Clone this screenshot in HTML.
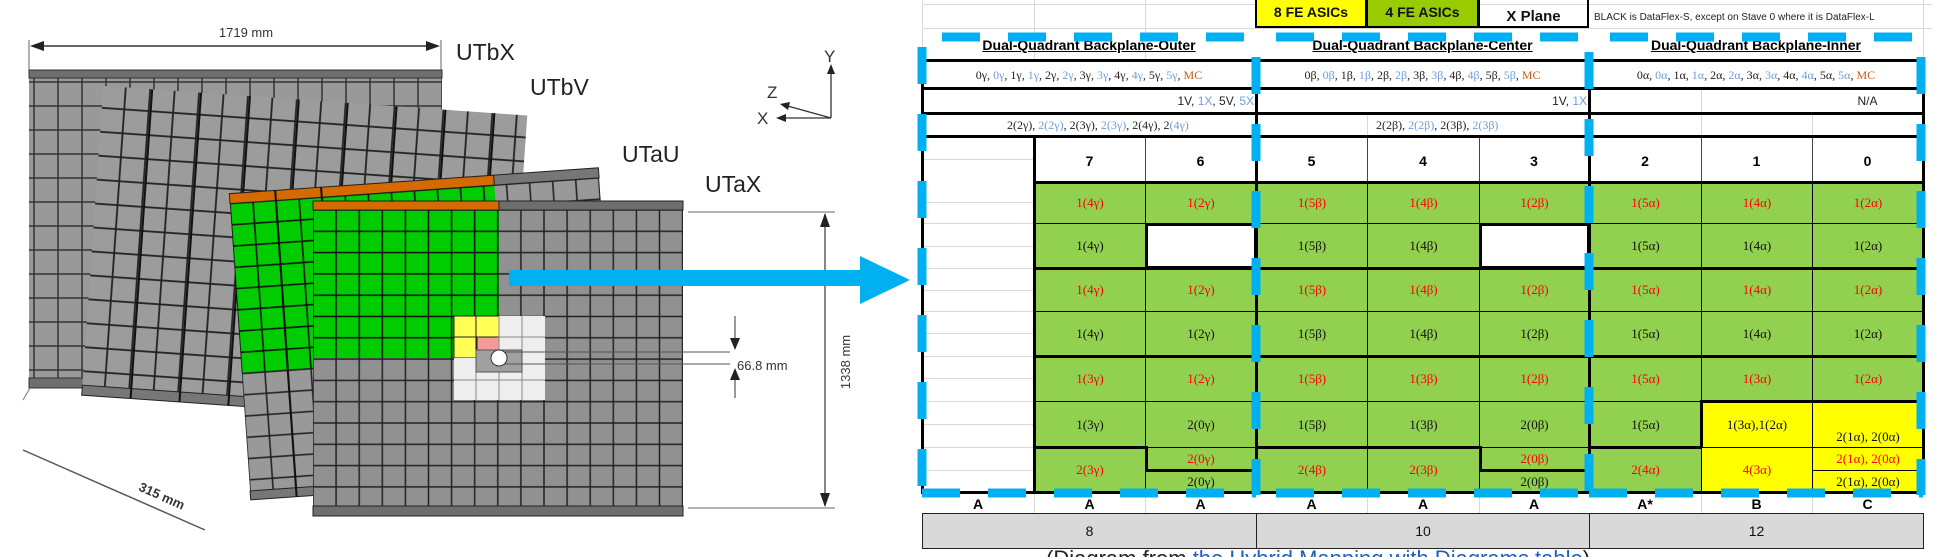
<!DOCTYPE html>
<html style="width:1947px;height:557px;overflow:hidden"><head><meta charset="utf-8"><style>
*{margin:0;padding:0}
body{width:1947px;height:557px;position:relative;overflow:hidden;background:#fff;font-family:"Liberation Sans",sans-serif}
.a{position:absolute;box-sizing:border-box}
.c{position:absolute;box-sizing:border-box;display:flex;align-items:center;justify-content:center;font:13px "Liberation Serif",serif;border:1px solid #000;color:#111}
.g{background:#92d050}.y{background:#ffff00}.r{color:#f00}.w{background:#fff}
.h{position:absolute;height:3px;background:#000}
.v{position:absolute;width:3px;background:#000}
.lg{position:absolute;background:#d9d9d9}
.b{color:#6f9fd8}.m{color:#c55a11}
.t{position:absolute;font:12px "Liberation Serif",serif;color:#222;white-space:nowrap}
.n{position:absolute;font:bold 14px "Liberation Sans",sans-serif;text-align:center}
</style></head><body>

<svg class="a" style="left:0;top:0" width="930" height="557">
<defs>
<pattern id="g1" x="34" y="82" width="24" height="24" patternUnits="userSpaceOnUse"><rect width="24" height="24" fill="#999" stroke="#333" stroke-width="1.5"/></pattern>
<pattern id="g2" x="90" y="98" width="24.5" height="24" patternUnits="userSpaceOnUse"><rect width="24.5" height="24" fill="#9c9c9c" stroke="#222" stroke-width="1.8"/></pattern>
<pattern id="g3" x="240" y="190" width="23.1" height="21.3" patternUnits="userSpaceOnUse"><rect width="23.1" height="21.3" fill="#999" stroke="#222" stroke-width="1.6"/></pattern>
<pattern id="gg" x="240" y="190" width="23.1" height="21.3" patternUnits="userSpaceOnUse"><rect width="23.1" height="21.3" fill="#00cc00" stroke="#111" stroke-width="1.6"/></pattern>
<pattern id="gx" x="313" y="210" width="23.1" height="21.3" patternUnits="userSpaceOnUse"><rect width="23.1" height="21.3" fill="#919191" stroke="#222" stroke-width="1.5"/></pattern>
<pattern id="gxg" x="313" y="210" width="23.1" height="21.3" patternUnits="userSpaceOnUse"><rect width="23.1" height="21.3" fill="#00cc00" stroke="#111" stroke-width="1.5"/></pattern>
</defs>
<line x1="29" y1="40" x2="29" y2="72" stroke="#666"/>
<line x1="441" y1="40" x2="441" y2="72" stroke="#666"/>
<line x1="32" y1="46" x2="438" y2="46" stroke="#333" stroke-width="1.5"/>
<polygon points="30,46 44,41 44,51" fill="#222"/><polygon points="440,46 426,41 426,51" fill="#222"/>
<text x="246" y="37" font-size="13" fill="#333" text-anchor="middle" font-family="Liberation Sans">1719 mm</text>
<text x="456" y="60" font-size="23" fill="#222" font-family="Liberation Sans">UTbX</text>
<text x="530" y="95" font-size="23" fill="#222" font-family="Liberation Sans">UTbV</text>
<text x="622" y="162" font-size="23" fill="#222" font-family="Liberation Sans">UTaU</text>
<text x="705" y="192" font-size="23" fill="#222" font-family="Liberation Sans">UTaX</text>
<rect x="29" y="70" width="413" height="318" fill="url(#g1)"/>
<rect x="29" y="70" width="413" height="8" fill="#6e6e6e" stroke="#333"/>
<rect x="29" y="378" width="413" height="10" fill="#6e6e6e" stroke="#333"/>
<g transform="rotate(4 300 255)">
<rect x="92" y="100" width="425" height="310" fill="url(#g2)"/>
<rect x="92" y="400" width="425" height="10" fill="#777" stroke="#222"/>
<path d="M141 100V410M190 100V410M239 100V410M288 100V410M337 100V410M386 100V410M435 100V410M484 100V410" stroke="#111" stroke-width="2"/>
</g>
<g transform="rotate(-4 430 340)">
<rect x="240" y="180" width="370" height="305" fill="url(#g3)"/>
<rect x="240" y="190" width="265" height="170" fill="url(#gg)"/>
<rect x="240" y="180" width="265" height="10" fill="#d46a00" stroke="#222"/>
<rect x="505" y="180" width="105" height="10" fill="#777" stroke="#222"/>
<rect x="240" y="478" width="370" height="9" fill="#777" stroke="#222"/>
<path d="M286 180V487M332 180V487" stroke="#111" stroke-width="2"/>
</g>
<rect x="313" y="201" width="370" height="315" fill="url(#gx)"/>
<rect x="313" y="201" width="370" height="9" fill="#6e6e6e" stroke="#222"/>
<rect x="313" y="506" width="370" height="10" fill="#6e6e6e" stroke="#222"/>
<rect x="313" y="210" width="186" height="148" fill="url(#gxg)"/>
<rect x="313" y="201" width="186" height="9" fill="#d46a00" stroke="#222"/>
<rect x="454" y="316" width="45" height="42" fill="#ffff55" stroke="#222"/>
<line x1="476" y1="316" x2="476" y2="358" stroke="#222"/><line x1="454" y1="337" x2="499" y2="337" stroke="#222"/>
<rect x="477" y="337" width="22" height="21" fill="#f59a9a" stroke="#222"/>
<rect x="454" y="358" width="91" height="42" fill="#eee"/>
<rect x="499" y="316" width="46" height="42" fill="#eee"/>
<path d="M454 380H545M476 358V401M499 316V401M522 316V401M499 337H545" stroke="#888"/>
<rect x="476" y="350" width="46" height="22" fill="#a0a0a0" stroke="#555"/>
<line x1="499" y1="352" x2="730" y2="352" stroke="#555"/><line x1="499" y1="364" x2="730" y2="364" stroke="#555"/>
<circle cx="499" cy="358" r="8" fill="#fff" stroke="#333"/>
<line x1="688" y1="212" x2="835" y2="212" stroke="#666"/>
<line x1="688" y1="508" x2="835" y2="508" stroke="#666"/>
<line x1="825" y1="214" x2="825" y2="506" stroke="#444" stroke-width="1.3"/>
<polygon points="825,213 820,227 830,227" fill="#222"/><polygon points="825,507 820,493 830,493" fill="#222"/>
<text transform="translate(850 362) rotate(-90)" font-size="13" fill="#333" text-anchor="middle" font-family="Liberation Sans">1338 mm</text>
<line x1="735" y1="316" x2="735" y2="346" stroke="#333"/><polygon points="735,350 730,338 740,338" fill="#222"/>
<line x1="735" y1="372" x2="735" y2="398" stroke="#333"/><polygon points="735,368 730,380 740,380" fill="#222"/>
<text x="737" y="370" font-size="13" fill="#333" font-family="Liberation Sans">66.8 mm</text>
<line x1="23" y1="450" x2="205" y2="530" stroke="#555" stroke-width="1.5"/>
<line x1="23" y1="400" x2="30" y2="388" stroke="#777"/>
<text transform="translate(160 500) rotate(24)" font-size="13" fill="#333" text-anchor="middle" font-family="Liberation Sans" font-weight="bold">315 mm</text>
<line x1="831" y1="118" x2="831" y2="68" stroke="#333" stroke-width="1.3"/><polygon points="831,64 827,74 835,74" fill="#222"/>
<line x1="831" y1="118" x2="784" y2="105" stroke="#333" stroke-width="1.3"/><polygon points="780,104 790,102 788,110" fill="#222"/>
<line x1="831" y1="118" x2="780" y2="118" stroke="#333" stroke-width="1.3"/><polygon points="776,118 786,114 786,122" fill="#222"/>
<text x="824" y="62" font-size="17" fill="#333" font-family="Liberation Sans">Y</text>
<text x="767" y="98" font-size="17" fill="#333" font-family="Liberation Sans">Z</text>
<text x="757" y="124" font-size="17" fill="#333" font-family="Liberation Sans">X</text>
<rect x="509" y="270" width="355" height="16" fill="#00b0f0"/>
<polygon points="860,256 910,280 860,304" fill="#00b0f0"/>
</svg>

<div class="lg" style="left:922px;top:4px;width:1010px;height:1px"></div>
<div class="lg" style="left:922px;top:28px;width:1010px;height:1px"></div>
<div class="lg" style="left:922px;top:0;width:1px;height:60px"></div>
<div class="lg" style="left:1034px;top:0;width:1px;height:60px"></div>
<div class="lg" style="left:1145px;top:0;width:1px;height:60px"></div>
<div class="lg" style="left:1923px;top:0;width:1px;height:60px"></div>
<div class="lg" style="left:924px;top:159px;width:110px;height:1px"></div>
<div class="lg" style="left:924px;top:202px;width:110px;height:1px"></div>
<div class="lg" style="left:924px;top:223px;width:110px;height:1px"></div>
<div class="lg" style="left:924px;top:246px;width:110px;height:1px"></div>
<div class="lg" style="left:924px;top:268px;width:110px;height:1px"></div>
<div class="lg" style="left:924px;top:290px;width:110px;height:1px"></div>
<div class="lg" style="left:924px;top:311px;width:110px;height:1px"></div>
<div class="lg" style="left:924px;top:333px;width:110px;height:1px"></div>
<div class="lg" style="left:924px;top:356px;width:110px;height:1px"></div>
<div class="lg" style="left:924px;top:378px;width:110px;height:1px"></div>
<div class="lg" style="left:924px;top:401px;width:110px;height:1px"></div>
<div class="lg" style="left:924px;top:424px;width:110px;height:1px"></div>
<div class="lg" style="left:924px;top:447px;width:110px;height:1px"></div>
<div class="lg" style="left:924px;top:470px;width:110px;height:1px"></div>
<div class="lg" style="left:1701px;top:88px;width:1px;height:48px"></div>
<div class="lg" style="left:1812px;top:113px;width:1px;height:23px"></div>
<div class="lg" style="left:1367px;top:113px;width:1px;height:23px"></div>
<div class="lg" style="left:1034px;top:492px;width:1px;height:21px"></div>
<div class="lg" style="left:1145px;top:492px;width:1px;height:21px"></div>
<div class="lg" style="left:1367px;top:492px;width:1px;height:21px"></div>
<div class="lg" style="left:1479px;top:492px;width:1px;height:21px"></div>
<div class="lg" style="left:1701px;top:492px;width:1px;height:21px"></div>
<div class="lg" style="left:1812px;top:492px;width:1px;height:21px"></div>

<div class="c y" style="left:1255px;top:-20px;width:112px;height:48px;border:2px solid #000;font:bold 14px 'Liberation Sans',sans-serif;padding-top:16px">8 FE ASICs</div>
<div class="c" style="left:1366px;top:-20px;width:113px;height:48px;border:2px solid #000;background:#99cc00;font:bold 14px 'Liberation Sans',sans-serif;padding-top:16px">4 FE ASICs</div>
<div class="c" style="left:1478px;top:-2px;width:111px;height:30px;border:2px solid #000;font:bold 15px 'Liberation Sans',sans-serif;padding-top:6px">X Plane</div>
<div class="t" style="left:1594px;top:12px;font:10px 'Liberation Sans',sans-serif">BLACK is DataFlex-S, except on Stave 0 where it is DataFlex-L</div>

<div class="n" style="left:922px;top:37px;width:334px;text-decoration:underline">Dual-Quadrant Backplane-Outer</div>
<div class="n" style="left:1256px;top:37px;width:333px;text-decoration:underline">Dual-Quadrant Backplane-Center</div>
<div class="n" style="left:1589px;top:37px;width:334px;text-decoration:underline">Dual-Quadrant Backplane-Inner</div>

<div class="t" style="left:922px;top:68px;width:334px;text-align:center">0γ, <span class="b">0γ</span>, 1γ, <span class="b">1γ</span>, 2γ, <span class="b">2γ</span>, 3γ, <span class="b">3γ</span>, 4γ, <span class="b">4γ</span>, 5γ, <span class="b">5γ</span>, <span class="m">MC</span></div>
<div class="t" style="left:1256px;top:68px;width:333px;text-align:center">0β, <span class="b">0β</span>, 1β, <span class="b">1β</span>, 2β, <span class="b">2β</span>, 3β, <span class="b">3β</span>, 4β, <span class="b">4β</span>, 5β, <span class="b">5β</span>, <span class="m">MC</span></div>
<div class="t" style="left:1589px;top:68px;width:334px;text-align:center">0α, <span class="b">0α</span>, 1α, <span class="b">1α</span>, 2α, <span class="b">2α</span>, 3α, <span class="b">3α</span>, 4α, <span class="b">4α</span>, 5α, <span class="b">5α</span>, <span class="m">MC</span></div>
<div class="t" style="left:922px;top:94px;width:332px;text-align:right;font-family:'Liberation Sans',sans-serif">1V, <span class="b">1X</span>, 5V, <span class="b">5X</span></div>
<div class="t" style="left:1256px;top:94px;width:331px;text-align:right;font-family:'Liberation Sans',sans-serif">1V, <span class="b">1X</span></div>
<div class="t" style="left:1812px;top:94px;width:111px;text-align:center;font-family:'Liberation Sans',sans-serif">N/A</div>
<div class="t" style="left:922px;top:118px;width:334px;overflow:hidden;padding-left:85px;box-sizing:border-box">2(2γ), <span class="b">2(2γ)</span>, 2(3γ), <span class="b">2(3γ)</span>, 2(4γ), 2<span class="b">(4γ)</span></div>
<div class="t" style="left:1256px;top:118px;width:333px;overflow:hidden;padding-left:120px;box-sizing:border-box">2(2β), <span class="b">2(2β)</span>, 2(3β), <span class="b">2(3β)</span></div>

<div class="n" style="left:1034px;top:153px;width:111px">7</div>
<div class="n" style="left:1145px;top:153px;width:111px">6</div>
<div class="n" style="left:1256px;top:153px;width:111px">5</div>
<div class="n" style="left:1367px;top:153px;width:112px">4</div>
<div class="n" style="left:1479px;top:153px;width:110px">3</div>
<div class="n" style="left:1589px;top:153px;width:112px">2</div>
<div class="n" style="left:1701px;top:153px;width:111px">1</div>
<div class="n" style="left:1812px;top:153px;width:111px">0</div>
<div class="lg" style="left:1145px;top:137px;width:1px;height:45px;background:#444"></div>
<div class="lg" style="left:1367px;top:137px;width:1px;height:45px;background:#444"></div>
<div class="lg" style="left:1479px;top:137px;width:1px;height:45px;background:#444"></div>
<div class="lg" style="left:1701px;top:137px;width:1px;height:45px;background:#444"></div>
<div class="lg" style="left:1812px;top:137px;width:1px;height:45px;background:#444"></div>

<div class="c g r" style="left:1034px;top:182px;width:112px;height:42px">1(4γ)</div>
<div class="c g" style="left:1034px;top:223px;width:112px;height:46px">1(4γ)</div>
<div class="c g r" style="left:1034px;top:268px;width:112px;height:44px">1(4γ)</div>
<div class="c g" style="left:1034px;top:311px;width:112px;height:46px">1(4γ)</div>
<div class="c g r" style="left:1034px;top:356px;width:112px;height:46px">1(3γ)</div>
<div class="c g" style="left:1034px;top:401px;width:112px;height:47px">1(3γ)</div>
<div class="c g r" style="left:1034px;top:447px;width:112px;height:46px">2(3γ)</div>
<div class="c g r" style="left:1145px;top:182px;width:112px;height:42px">1(2γ)</div>
<div class="c w" style="left:1145px;top:223px;width:112px;height:46px;border:3px solid #000"></div>
<div class="c g r" style="left:1145px;top:268px;width:112px;height:44px">1(2γ)</div>
<div class="c g" style="left:1145px;top:311px;width:112px;height:46px">1(2γ)</div>
<div class="c g r" style="left:1145px;top:356px;width:112px;height:46px">1(2γ)</div>
<div class="c g" style="left:1145px;top:401px;width:112px;height:47px">2(0γ)</div>
<div class="c g r" style="left:1145px;top:447px;width:112px;height:24px">2(0γ)</div>
<div class="c g" style="left:1145px;top:470px;width:112px;height:23px">2(0γ)</div>
<div class="c g r" style="left:1256px;top:182px;width:112px;height:42px">1(5β)</div>
<div class="c g" style="left:1256px;top:223px;width:112px;height:46px">1(5β)</div>
<div class="c g r" style="left:1256px;top:268px;width:112px;height:44px">1(5β)</div>
<div class="c g" style="left:1256px;top:311px;width:112px;height:46px">1(5β)</div>
<div class="c g r" style="left:1256px;top:356px;width:112px;height:46px">1(5β)</div>
<div class="c g" style="left:1256px;top:401px;width:112px;height:47px">1(5β)</div>
<div class="c g r" style="left:1256px;top:447px;width:112px;height:46px">2(4β)</div>
<div class="c g r" style="left:1367px;top:182px;width:113px;height:42px">1(4β)</div>
<div class="c g" style="left:1367px;top:223px;width:113px;height:46px">1(4β)</div>
<div class="c g r" style="left:1367px;top:268px;width:113px;height:44px">1(4β)</div>
<div class="c g" style="left:1367px;top:311px;width:113px;height:46px">1(4β)</div>
<div class="c g r" style="left:1367px;top:356px;width:113px;height:46px">1(3β)</div>
<div class="c g" style="left:1367px;top:401px;width:113px;height:47px">1(3β)</div>
<div class="c g r" style="left:1367px;top:447px;width:113px;height:46px">2(3β)</div>
<div class="c g r" style="left:1479px;top:182px;width:111px;height:42px">1(2β)</div>
<div class="c w" style="left:1479px;top:223px;width:111px;height:46px;border:3px solid #000"></div>
<div class="c g r" style="left:1479px;top:268px;width:111px;height:44px">1(2β)</div>
<div class="c g" style="left:1479px;top:311px;width:111px;height:46px">1(2β)</div>
<div class="c g r" style="left:1479px;top:356px;width:111px;height:46px">1(2β)</div>
<div class="c g" style="left:1479px;top:401px;width:111px;height:47px">2(0β)</div>
<div class="c g r" style="left:1479px;top:447px;width:111px;height:24px">2(0β)</div>
<div class="c g" style="left:1479px;top:470px;width:111px;height:23px">2(0β)</div>
<div class="c g r" style="left:1589px;top:182px;width:113px;height:42px">1(5α)</div>
<div class="c g" style="left:1589px;top:223px;width:113px;height:46px">1(5α)</div>
<div class="c g r" style="left:1589px;top:268px;width:113px;height:44px">1(5α)</div>
<div class="c g" style="left:1589px;top:311px;width:113px;height:46px">1(5α)</div>
<div class="c g r" style="left:1589px;top:356px;width:113px;height:46px">1(5α)</div>
<div class="c g" style="left:1589px;top:401px;width:113px;height:47px">1(5α)</div>
<div class="c g r" style="left:1589px;top:447px;width:113px;height:46px">2(4α)</div>
<div class="c g r" style="left:1701px;top:182px;width:112px;height:42px">1(4α)</div>
<div class="c g" style="left:1701px;top:223px;width:112px;height:46px">1(4α)</div>
<div class="c g r" style="left:1701px;top:268px;width:112px;height:44px">1(4α)</div>
<div class="c g" style="left:1701px;top:311px;width:112px;height:46px">1(4α)</div>
<div class="c g r" style="left:1701px;top:356px;width:112px;height:46px">1(3α)</div>
<div class="c y" style="left:1701px;top:401px;width:112px;height:47px">1(3α),1(2α)</div>
<div class="c y r" style="left:1701px;top:447px;width:112px;height:46px">4(3α)</div>
<div class="c g r" style="left:1812px;top:182px;width:112px;height:42px">1(2α)</div>
<div class="c g" style="left:1812px;top:223px;width:112px;height:46px">1(2α)</div>
<div class="c g r" style="left:1812px;top:268px;width:112px;height:44px">1(2α)</div>
<div class="c g" style="left:1812px;top:311px;width:112px;height:46px">1(2α)</div>
<div class="c g r" style="left:1812px;top:356px;width:112px;height:46px">1(2α)</div>
<div class="c y" style="left:1812px;top:401px;width:112px;height:47px;align-items:flex-end;padding-bottom:2px">2(1α), 2(0α)</div>
<div class="c y r" style="left:1812px;top:447px;width:112px;height:24px">2(1α), 2(0α)</div>
<div class="c y" style="left:1812px;top:470px;width:112px;height:23px">2(1α), 2(0α)</div>

<div class="h" style="left:922px;top:59px;width:1003px"></div>
<div class="h" style="left:922px;top:87px;width:1003px"></div>
<div class="h" style="left:922px;top:112px;width:1003px"></div>
<div class="h" style="left:922px;top:135px;width:1003px"></div>
<div class="h" style="left:1034px;top:181px;width:891px"></div>
<div class="h" style="left:1034px;top:267px;width:891px"></div>
<div class="h" style="left:1034px;top:355px;width:891px"></div>
<div class="h" style="left:1034px;top:446px;width:113px"></div>
<div class="h" style="left:1145px;top:469px;width:112px"></div>
<div class="h" style="left:1256px;top:446px;width:224px"></div>
<div class="h" style="left:1479px;top:469px;width:111px"></div>
<div class="h" style="left:1589px;top:446px;width:113px"></div>
<div class="h" style="left:1701px;top:400px;width:224px"></div>
<div class="h" style="left:922px;top:491px;width:1003px"></div>
<div class="v" style="left:921px;top:59px;height:435px"></div>
<div class="v" style="left:1033px;top:135px;height:359px"></div>
<div class="v" style="left:1255px;top:59px;height:435px"></div>
<div class="v" style="left:1588px;top:59px;height:435px"></div>
<div class="v" style="left:1922px;top:59px;height:435px"></div>
<div class="v" style="left:1145px;top:446px;height:26px"></div>
<div class="v" style="left:1479px;top:446px;height:26px"></div>
<div class="v" style="left:1700px;top:400px;height:48px"></div>

<div class="n" style="left:922px;top:496px;width:112px">A</div>
<div class="n" style="left:1034px;top:496px;width:111px">A</div>
<div class="n" style="left:1145px;top:496px;width:111px">A</div>
<div class="n" style="left:1256px;top:496px;width:111px">A</div>
<div class="n" style="left:1367px;top:496px;width:112px">A</div>
<div class="n" style="left:1479px;top:496px;width:110px">A</div>
<div class="n" style="left:1589px;top:496px;width:112px">A*</div>
<div class="n" style="left:1701px;top:496px;width:111px">B</div>
<div class="n" style="left:1812px;top:496px;width:111px">C</div>
<div class="c" style="left:922px;top:513px;width:335px;height:36px;background:#d9d9d9;border:1.5px solid #222;font:14px 'Liberation Sans',sans-serif">8</div>
<div class="c" style="left:1256px;top:513px;width:334px;height:36px;background:#d9d9d9;border:1.5px solid #222;font:14px 'Liberation Sans',sans-serif">10</div>
<div class="c" style="left:1589px;top:513px;width:335px;height:36px;background:#d9d9d9;border:1.5px solid #222;font:14px 'Liberation Sans',sans-serif">12</div>
<div class="t" style="left:1046px;top:546px;height:11px;overflow:hidden;font:22px 'Liberation Sans',sans-serif;color:#222">(Diagram from <span style="color:#1f5fbf">the Hybrid Mapping with Diagrams table</span>)</div>

<svg class="a" style="left:0;top:0" width="1947" height="557">
<g fill="none" stroke="#00b0f0" stroke-width="9" stroke-dasharray="38 28">
<path d="M922 37H1256" stroke-dashoffset="-20"/>
<path d="M1276 37H1589"/>
<path d="M1610 37H1923"/>
<path d="M922 47V495" stroke-dasharray="37 30"/>
<path d="M1256 47V495" stroke-dasharray="37 30" stroke-dashoffset="-10"/>
<path d="M1589 47V495" stroke-dasharray="37 30" stroke-dashoffset="-5"/>
<path d="M1921 57V495" stroke-dasharray="37 30"/>
<path d="M922 493H1256"/>
<path d="M1256 493H1589" stroke-dashoffset="-20"/>
<path d="M1589 493H1923"/>
</g>
</svg>
</body></html>
